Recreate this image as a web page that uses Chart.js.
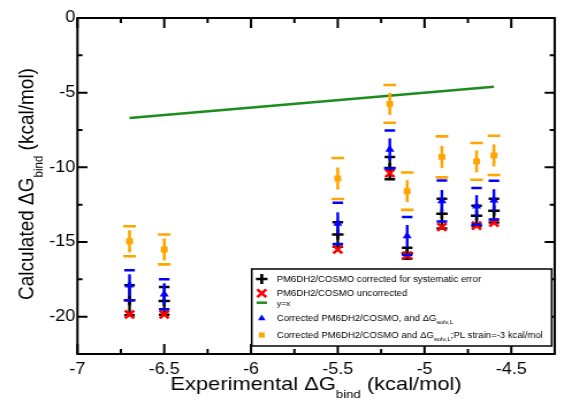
<!DOCTYPE html>
<html>
<head>
<meta charset="utf-8">
<script src="https://cdn.jsdelivr.net/npm/chart.js@4.4.1/dist/chart.umd.min.js"></script>
<style>
html, body { margin: 0; padding: 0; background: #fff; }
#wrap { width: 564px; height: 401px; overflow: hidden; }
/* the original figure is stretched horizontally, so draw narrow and scale */
#chart { transform-origin: 0 0; transform: scaleX(1.151); }
</style>
</head>
<body>
<div id="wrap"><canvas id="chart" width="490" height="401"></canvas></div>
<script>
// experimental dG bind (kcal/mol), one per ligand
var expDG = [-6.7, -6.5, -5.5, -5.2, -5.1, -4.9, -4.7, -4.6];

// PM6DH2/COSMO corrected for systematic error
var corrDG  = [-18.9, -18.95, -14.5, -10.05, -15.75, -13.1, -13.25, -12.9];
var corrErr = [1.0, 0.93, 0.82, 0.75, 0.37, 1.0, 0.68, 0.8];

// PM6DH2/COSMO uncorrected
var uncorrDG = [-19.85, -19.85, -15.5, -10.4, -15.9, -14.0, -13.9, -13.7];

// corrected + dG solv,L
var solvDG  = [-17.9, -18.5, -13.75, -8.8, -14.6, -12.25, -12.6, -12.2];
var solvErr = [1.0, 1.0, 1.38, 1.27, 1.27, 1.37, 1.22, 1.3];

// corrected + dG solv,L, PL strain = -3 kcal/mol
var strainDG  = [-14.95, -15.5, -10.75, -5.75, -11.6, -9.3, -9.6, -9.2];
var strainErr = [1.0, 1.0, 1.37, 1.26, 1.25, 1.37, 1.23, 1.31];

// y = x reference line
var idealX = [-6.7, -4.6];

var xTicks = [-7, -6.5, -6, -5.5, -5, -4.5];
var xMinor = [-6.75, -6.25, -5.75, -5.25, -4.75];
var yTicks = [0, -5, -10, -15, -20];
var yMinor = [-2.5, -7.5, -12.5, -17.5];

var xTitle = 'Experimental \u0394G{bind} (kcal/mol)';
var yTitle = 'Calculated \u0394G{bind} (kcal/mol)';

var SX = 1.151;   // horizontal stretch applied by css
var FONT = '"Liberation Sans", Arial, Helvetica, sans-serif';

function pts(xs, ys) {
	return xs.map(function(x, i) { return {x: x, y: ys[i]}; });
}

// text with {subscript} parts
function drawRich(ctx, str, x, y, size, subSize, drop, align) {
	var parts = str.split(/\{([^}]*)\}/);
	var widths = [], total = 0;
	for (var i = 0; i < parts.length; i++) {
		ctx.font = (i % 2 ? subSize : size) + 'px ' + FONT;
		widths[i] = ctx.measureText(parts[i]).width;
		total += widths[i];
	}
	var cx = align === 'center' ? x - total / 2 : x;
	ctx.textAlign = 'left';
	ctx.textBaseline = 'alphabetic';
	for (var j = 0; j < parts.length; j++) {
		ctx.font = (j % 2 ? subSize : size) + 'px ' + FONT;
		ctx.fillText(parts[j], cx, y + (j % 2 ? drop : 0));
		cx += widths[j];
	}
}

var errorBars = {
	id: 'errorBars',
	beforeDatasetDraw: function(chart, args) {
		var ds = chart.data.datasets[args.index];
		if (!ds.errors) return;
		var ctx = chart.ctx, xs = chart.scales.x, ys = chart.scales.y, st = ds.errStyle;
		ctx.save();
		ctx.strokeStyle = st.color;
		ds.data.forEach(function(p, i) {
			var e = ds.errors[i];
			var px = xs.getPixelForValue(p.x);
			var py = ys.getPixelForValue(p.y);
			var top = ys.getPixelForValue(p.y + e);
			var bot = ys.getPixelForValue(p.y - e);
			var r = st.riser ? Math.min(st.riser, py - top) : py - top;
			ctx.lineWidth = st.width;
			ctx.beginPath();
			ctx.moveTo(px, py - r);
			ctx.lineTo(px, py + r);
			ctx.stroke();
			ctx.lineWidth = st.capWidth;
			ctx.beginPath();
			ctx.moveTo(px - st.cap, top); ctx.lineTo(px + st.cap, top);
			ctx.moveTo(px - st.cap, bot); ctx.lineTo(px + st.cap, bot);
			ctx.stroke();
		});
		ctx.restore();
	}
};

var frame = {
	id: 'frame',
	afterDatasetsDraw: function(chart) {
		var ctx = chart.ctx, a = chart.chartArea, xs = chart.scales.x, ys = chart.scales.y;
		ctx.save();
		ctx.strokeStyle = '#000';
		ctx.lineWidth = 2;
		ctx.strokeRect(a.left, a.top, a.right - a.left, a.bottom - a.top);
		function xt(v, len) {
			var px = xs.getPixelForValue(v);
			ctx.moveTo(px, a.bottom); ctx.lineTo(px, a.bottom - len);
			ctx.moveTo(px, a.top); ctx.lineTo(px, a.top + len);
		}
		function yt(v, len) {
			var py = ys.getPixelForValue(v);
			ctx.moveTo(a.left, py); ctx.lineTo(a.left + len / SX, py);
			ctx.moveTo(a.right, py); ctx.lineTo(a.right - len / SX, py);
		}
		ctx.beginPath();
		xTicks.forEach(function(v) { xt(v, 10); });
		xMinor.forEach(function(v) { xt(v, 5); });
		yTicks.forEach(function(v) { yt(v, 10); });
		yMinor.forEach(function(v) { yt(v, 5); });
		ctx.stroke();

		ctx.fillStyle = '#000';
		var cx = (a.left + a.right) / 2;
		drawRich(ctx, xTitle, cx, 390, 19, 11.5, 8, 'center');
		ctx.translate(28.7, (a.top + a.bottom) / 2 - 2);
		ctx.rotate(-Math.PI / 2);
		drawRich(ctx, yTitle, 0, 0, 19, 11.5, 8, 'center');
		ctx.restore();
	}
};

var legendBox = {
	id: 'legendBox',
	afterDraw: function(chart) {
		var ctx = chart.ctx;
		var box = {l: 218.7, t: 269, r: 479.3, b: 346};
		var rows = [279, 293.3, 302.7, 318.3, 335];
		var symX = 227.4, txtX = 240.4;
		ctx.save();
		ctx.fillStyle = '#fff';
		ctx.fillRect(box.l, box.t, box.r - box.l, box.b - box.t);
		ctx.strokeStyle = '#000';
		ctx.lineWidth = 1.5;
		ctx.strokeRect(box.l, box.t, box.r - box.l, box.b - box.t);
		chart.data.datasets.forEach(function(ds) {
			var y = rows[ds.legendRow];
			ctx.save();
			if (ds.showLine) {
				ctx.strokeStyle = ds.borderColor;
				ctx.lineWidth = ds.borderWidth;
				ctx.beginPath();
				ctx.moveTo(symX - 4.5, y); ctx.lineTo(symX + 4.5, y);
				ctx.stroke();
			} else {
				ctx.fillStyle = ds.pointBackgroundColor;
				ctx.strokeStyle = ds.pointBorderColor;
				ctx.lineWidth = ds.legendBorder;
				Chart.helpers.drawPoint(ctx, {pointStyle: ds.pointStyle, radius: ds.legendRadius, borderWidth: ds.legendBorder, rotation: 0}, symX, y);
			}
			ctx.restore();
			ctx.fillStyle = '#000';
			var size = ds.showLine ? 7.5 : 8.3;
			drawRich(ctx, ds.label, txtX, y + 3, size, 5.8, 2.5, 'left');
		});
		ctx.restore();
	}
};

var tickFont = {family: FONT, size: 15.6};

new Chart(document.getElementById('chart'), {
	type: 'scatter',
	data: {
		datasets: [
			{label: 'Corrected PM6DH2/COSMO and \u0394G{solv,L};PL strain=-3 kcal/mol',
				data: pts(expDG, strainDG), errors: strainErr, order: 1, legendRow: 4,
				errStyle: {color: '#ffa500', width: 2.6, capWidth: 2.6, cap: 5.5, riser: 11},
				pointStyle: 'rect', pointRadius: 4.2, pointBackgroundColor: '#ffa500',
				pointBorderColor: '#ffa500', pointBorderWidth: 0, legendRadius: 3.6, legendBorder: 0},
			{label: 'Corrected PM6DH2/COSMO, and \u0394G{solv,L}',
				data: pts(expDG, solvDG), errors: solvErr, order: 2, legendRow: 3,
				errStyle: {color: '#0000ff', width: 2.4, capWidth: 2.5, cap: 4.6, riser: 11},
				pointStyle: 'triangle', pointRadius: 4.6, pointBackgroundColor: '#0000ff',
				pointBorderColor: '#0000ff', pointBorderWidth: 0, legendRadius: 3.8, legendBorder: 0},
			{label: 'y=x', data: pts(idealX, idealX), order: 3, legendRow: 2,
				showLine: true, borderColor: '#1c8c1c', borderWidth: 2.5, pointRadius: 0},
			{label: 'PM6DH2/COSMO uncorrected',
				data: pts(expDG, uncorrDG), order: 4, legendRow: 1,
				pointStyle: 'crossRot', pointRadius: 5.5, pointBackgroundColor: '#ff0000',
				pointBorderColor: '#ff0000', pointBorderWidth: 2.6, legendRadius: 5.5, legendBorder: 2.6},
			{label: 'PM6DH2/COSMO corrected for systematic error',
				data: pts(expDG, corrDG), errors: corrErr, order: 5, legendRow: 0,
				errStyle: {color: '#000', width: 2.3, capWidth: 2.5, cap: 4.6},
				pointStyle: 'cross', pointRadius: 5, pointBackgroundColor: '#000',
				pointBorderColor: '#000', pointBorderWidth: 2.5, legendRadius: 5, legendBorder: 2.6}
		]
	},
	options: {
		responsive: false,
		animation: false,
		devicePixelRatio: 1,
		layout: {padding: {top: 18, right: 3.9, left: 0, bottom: 0}},
		plugins: {legend: {display: false}, tooltip: {enabled: false}},
		scales: {
			x: {
				type: 'linear', min: -7, max: -4.25,
				afterBuildTicks: function(s) { s.ticks = xTicks.map(function(v) { return {value: v}; }); },
				afterFit: function(s) { s.height = 47; },
				grid: {display: false, drawTicks: false},
				border: {display: false},
				ticks: {color: '#000', font: tickFont, padding: 6, maxRotation: 0, autoSkip: false,
					callback: function(v) { return String(v); }}
			},
			y: {
				min: -22.5, max: 0,
				afterBuildTicks: function(s) { s.ticks = yTicks.map(function(v) { return {value: v}; }); },
				afterFit: function(s) { s.width = 67.3; },
				grid: {display: false, drawTicks: false},
				border: {display: false},
				ticks: {color: '#000', font: tickFont, padding: 2, autoSkip: false,
					callback: function(v) { return String(v); }}
			}
		}
	},
	plugins: [errorBars, frame, legendBox]
});
</script>
</body>
</html>
